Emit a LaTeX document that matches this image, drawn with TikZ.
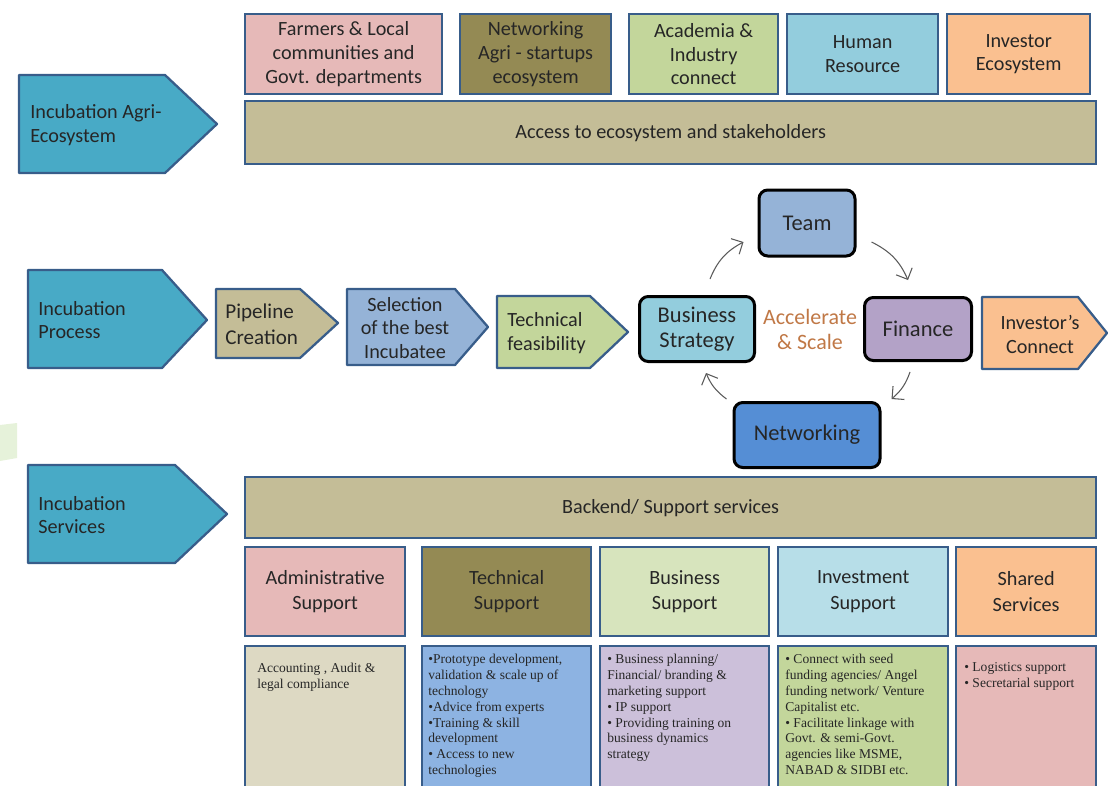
\documentclass[tikz,border=0pt]{standalone}
\usepackage{fontspec}
\setmainfont{Carlito}
\newfontfamily\notefont{Liberation Serif}
\usetikzlibrary{arrows.meta,calc}
\definecolor{edgeblue}{RGB}{56,93,138}
\definecolor{tagblue}{RGB}{72,170,198}
\definecolor{rosepink}{RGB}{230,185,184}
\definecolor{mudolive}{RGB}{148,138,84}
\definecolor{leafgreen}{RGB}{195,214,155}
\definecolor{skyblue}{RGB}{147,205,221}
\definecolor{peach}{RGB}{250,192,144}
\definecolor{khaki}{RGB}{196,189,151}
\definecolor{steel}{RGB}{149,179,215}
\definecolor{lilac}{RGB}{179,162,199}
\definecolor{deepblue}{RGB}{85,142,213}
\definecolor{palegreen}{RGB}{215,228,189}
\definecolor{paleblue}{RGB}{183,222,232}
\definecolor{stone}{RGB}{221,217,195}
\definecolor{cornflower}{RGB}{141,179,226}
\definecolor{mauve}{RGB}{204,192,218}
\definecolor{copper}{RGB}{192,120,70}
\definecolor{mint}{RGB}{230,242,218}
\definecolor{ink}{RGB}{38,38,38}
\newlength\upx \setlength\upx{0.02cm}
\begin{document}
\begin{tikzpicture}[x=0.02cm,y=-0.02cm,>={Straight Barb[length=5pt]},
	box/.style={draw=edgeblue,line width=1.3pt,anchor=north west,align=center,inner sep=1pt,
		text=ink,font=\fontsize{11.5}{13.6}\selectfont},
	head/.style={box,font=\fontsize{11.5}{14.6}\selectfont},
	tag/.style={draw=edgeblue,line width=1.3pt,line join=round},
	tagtext/.style={align=left,text=ink,inner sep=0pt,font=\fontsize{11.5}{13.6}\selectfont},
	cyc/.style={draw=black,line width=1.7pt,rounded corners=5pt,align=center,inner sep=1pt,
		text=ink,font=\fontsize{12.8}{14.2}\selectfont},
	note/.style={anchor=north west,align=left,inner sep=0pt,text=ink,
		font=\notefont\fontsize{7.7}{9}\selectfont},
	loop/.style={->,draw=black!65,line width=0.6pt}]
	\useasboundingbox (0,0) rectangle (1108,785);
	\clip (0,0) rectangle (1108,785);
	\fill[mint] (0,425) -- (17,423) -- (17,458) -- (0,461) -- cycle;
	% Agri-ecosystem
	\draw[tag,fill=tagblue] (19,75) -- (165,75) -- (217,124) -- (165,173) -- (19,173) -- cycle;
	\node[tagtext,anchor=west] (agri) at (30,125) {Incubation Agri-\\Ecosystem};
	\node[box,fill=rosepink,minimum width=197\upx,minimum height=80\upx] (farmers) at (244,13) {Farmers \& Local\\communities and\\Govt. departments};
	\node[box,fill=mudolive,minimum width=151\upx,minimum height=80\upx] (agrinet) at (459,13) {Networking\\Agri - startups\\ecosystem};
	\node[box,fill=leafgreen,minimum width=149\upx,minimum height=80\upx] (academia) at (628,13) {Academia \&\\Industry\\connect};
	\node[box,fill=skyblue,minimum width=151\upx,minimum height=80\upx] (human) at (786,13) {Human\\Resource};
	\node[box,fill=peach,minimum width=143\upx,minimum height=80\upx] (investor) at (946,13) {Investor\\Ecosystem};
	\node[box,fill=khaki,minimum width=851\upx,minimum height=63\upx] (access) at (244,100) {Access to ecosystem and stakeholders};
	% Process
	\draw[tag,fill=tagblue] (28,270) -- (162,270) -- (207,320) -- (162,368) -- (28,368) -- cycle;
	\node[tagtext,anchor=west] (process) at (38,320) {Incubation\\Process};
	\draw[tag,fill=khaki] (216,289) -- (300,289) -- (338,323) -- (300,358) -- (216,358) -- cycle;
	\node[tagtext,anchor=west,font=\fontsize{12}{14.6}\selectfont] (pipeline) at (225,324) {Pipeline\\Creation};
	\draw[tag,fill=steel] (347,289) -- (455,289) -- (488,327) -- (455,365) -- (347,365) -- cycle;
	\node[tagtext,align=center] (selection) at (405,328) {Selection\\of the best\\Incubatee};
	\draw[tag,fill=leafgreen] (497,296) -- (590,296) -- (628,332) -- (590,368) -- (497,368) -- cycle;
	\node[tagtext,anchor=west] (techfeas) at (507,333) {Technical\\feasibility};
	\draw[tag,fill=peach] (982,297) -- (1078,297) -- (1107,333) -- (1078,369) -- (982,369) -- cycle;
	\node[tagtext,align=center] (connect) at (1040,334) {Investor’s\\Connect};
	\node[cyc,fill=skyblue,minimum width=115\upx,minimum height=65\upx] (strategy) at (697,329) {Business\\Strategy};
	\node[cyc,fill=steel,minimum width=96\upx,minimum height=66\upx] (team) at (807,223) {Team};
	\node[cyc,fill=lilac,minimum width=107\upx,minimum height=63\upx] (finance) at (918,329) {Finance};
	\node[cyc,fill=deepblue,minimum width=146\upx,minimum height=65\upx] (networking) at (807,435) {Networking};
	\node[align=center,text=copper,font=\fontsize{12.5}{14.2}\selectfont] (accel) at (810,329) {Accelerate\\\& Scale};
	\draw[loop] ($(strategy.north)+(13,-16)$) to[bend left=20] ($(team.west)+(-14,19)$);
	\draw[loop] ($(team.east)+(15,19)$) to[bend left=20] ($(finance.north)+(-10,-16)$);
	\draw[loop] ($(finance.south)+(-8,10)$) to[bend left=15] ($(networking.north east)+(10,-2)$);
	\draw[loop] ($(networking.north west)+(-6,-2)$) to[bend left=15] ($(strategy.south)+(9,10)$);
	% Services
	\draw[tag,fill=tagblue] (28,465) -- (175,465) -- (227,514) -- (175,563) -- (28,563) -- cycle;
	\node[tagtext,anchor=west] (services) at (38,515) {Incubation\\Services};
	\node[box,fill=khaki,minimum width=851\upx,minimum height=61\upx] (backend) at (244,476) {Backend/ Support services};
	\node[head,fill=rosepink,minimum width=160\upx,minimum height=89\upx] (admin) at (244,546) {Administrative\\Support};
	\node[head,fill=mudolive,minimum width=169\upx,minimum height=89\upx] (techsup) at (421,546) {Technical\\Support};
	\node[head,fill=palegreen,minimum width=169\upx,minimum height=89\upx] (bussup) at (599,546) {Business\\Support};
	\node[head,fill=paleblue,minimum width=170\upx,minimum height=89\upx] (invsup) at (777,546) {Investment\\Support};
	\node[head,fill=peach,minimum width=140\upx,minimum height=89\upx] (shared) at (955,546) {Shared\\Services};
	\node[box,fill=stone,minimum width=160\upx,minimum height=150\upx] (admindo) at (244,645) {};
	\node[box,fill=cornflower,minimum width=169\upx,minimum height=150\upx] (techdo) at (421,645) {};
	\node[box,fill=mauve,minimum width=169\upx,minimum height=150\upx] (busdo) at (599,645) {};
	\node[box,fill=leafgreen,minimum width=170\upx,minimum height=150\upx] (invdo) at (777,645) {};
	\node[box,fill=rosepink,minimum width=140\upx,minimum height=150\upx] (shareddo) at (955,645) {};
	\node[note] (adminnote) at (257,663) {Accounting , Audit \&\\legal compliance};
	\node[note] (technote) at (428,654) {•Prototype development,\\validation \& scale up of\\technology\\•Advice from experts\\•Training \& skill\\development\\• Access to new\\technologies};
	\node[note] (busnote) at (607,654) {• Business planning/\\Financial/ branding \&\\marketing support\\• IP support\\• Providing training on\\business dynamics\\strategy};
	\node[note] (invnote) at (785,654) {• Connect with seed\\funding agencies/ Angel\\funding network/ Venture\\Capitalist etc.\\• Facilitate linkage with\\Govt. \& semi-Govt.\\agencies like MSME,\\NABAD \& SIDBI etc.};
	\node[note] (sharednote) at (964,662) {• Logistics support\\• Secretarial support};
\end{tikzpicture}
\end{document}
